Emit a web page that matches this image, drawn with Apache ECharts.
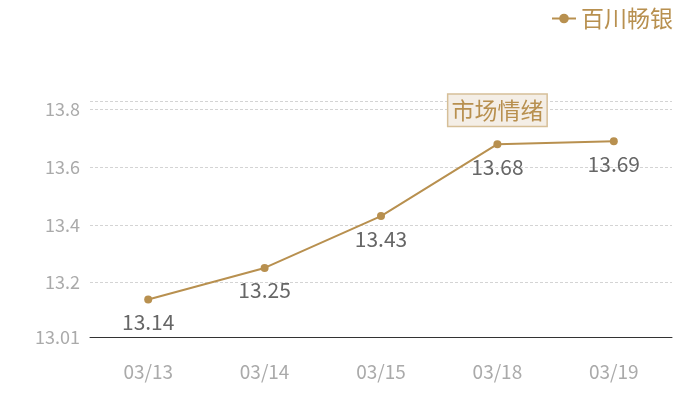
<!DOCTYPE html>
<html>
<head>
<meta charset="utf-8">
<script src="https://cdn.jsdelivr.net/npm/echarts@6/dist/echarts.min.js"></script>
<style>
html,body{margin:0;padding:0;background:#fff;}
#chart{width:700px;height:400px;}
</style>
</head>
<body>
<div id="chart"></div>
<script>
var dates = ['03/13','03/14','03/15','03/18','03/19'];
var prices = [13.14, 13.25, 13.43, 13.68, 13.69];
var seriesName = '百川畅银';
var markText = '市场情绪';

var gold = '#b8904f';
var font = 'Noto Sans CJK SC';

// 上下各留1%
var yMin = Math.round(Math.min.apply(null, prices) * 0.99 * 100) / 100;
var yMax = Math.round(Math.max.apply(null, prices) * 1.01 * 100) / 100;

var myChart = echarts.init(document.getElementById('chart'));
var option = {
    textStyle: {fontFamily: font},
    legend: {
        data: [seriesName],
        right: 22,
        top: 2,
        itemWidth: 24,
        itemHeight: 12,
        itemGap: 8,
        textStyle: {color: gold, fontSize: 23, fontFamily: font}
    },
    grid: {
        left: 90,
        right: 28,
        top: 101,
        bottom: 63
    },
    xAxis: {
        type: 'category',
        data: dates,
        axisLine: {lineStyle: {color: '#333', width: 1}},
        axisTick: {show: false},
        axisLabel: {color: '#aaa', fontSize: 19, margin: 25}
    },
    yAxis: {
        type: 'value',
        min: yMin,
        max: yMax,
        axisLine: {show: false},
        axisTick: {show: false},
        axisLabel: {color: '#aaa', fontSize: 18, margin: 10, showMaxLabel: false},
        splitLine: {lineStyle: {color: '#d4d4d4', type: [3, 2], width: 1}}
    },
    series: [
        {
            name: seriesName,
            type: 'line',
            symbol: 'circle',
            symbolSize: 8,
            itemStyle: {color: gold},
            lineStyle: {color: gold, width: 2},
            data: prices,
            label: {
                show: true,
                position: 'bottom',
                distance: 8,
                color: '#666',
                fontSize: 21
            },
            markPoint: {
                symbol: 'circle',
                symbolSize: 0,
                data: [{coord: [dates[3], prices[3]], value: markText}],
                label: {
                    show: true,
                    formatter: markText,
                    offset: [0, -34],
                    color: gold,
                    fontSize: 23,
                    backgroundColor: '#f4eee6',
                    borderColor: '#d6bf98',
                    borderWidth: 1.5,
                    padding: [5, 3, 3, 3]
                }
            }
        }
    ]
};
myChart.setOption(option);
</script>
</body>
</html>
